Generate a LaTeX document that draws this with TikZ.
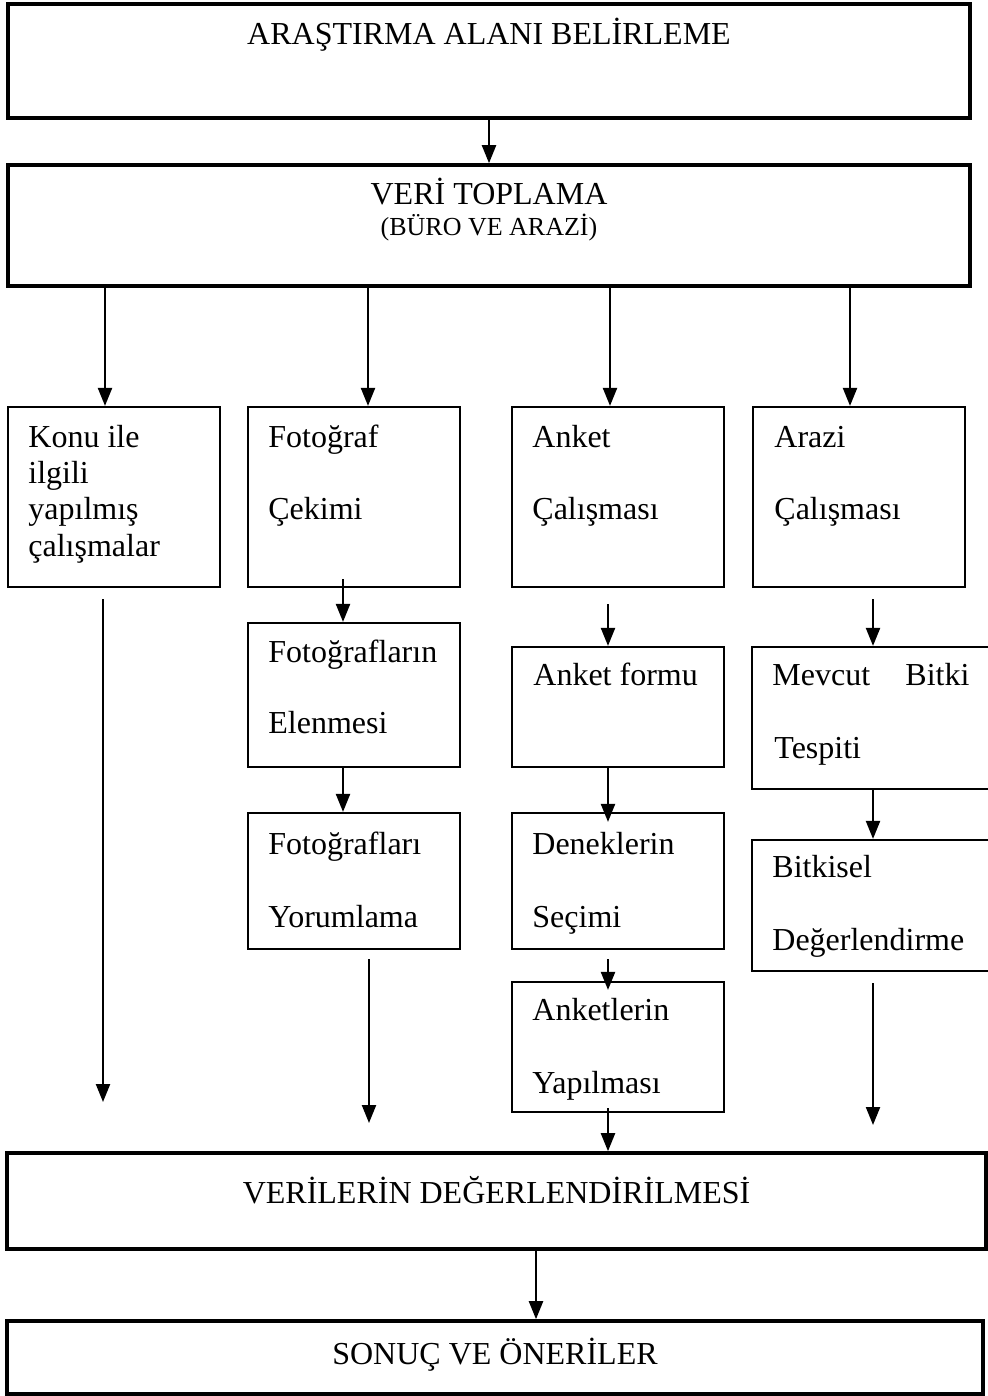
\documentclass[tikz,border=0pt]{standalone}
\usepackage{fontspec}
\setmainfont{Liberation Serif}
\usetikzlibrary{arrows.meta}
\begin{document}
\begin{tikzpicture}[x=0.5pt,y=-0.5pt,
  heavy/.style={draw, line width=1.8pt, inner sep=0pt},
  plain/.style={draw, line width=1.1pt, inner sep=0pt},
  sz/.style 2 args={minimum width=#1*0.5pt, minimum height=#2*0.5pt},
  txt/.style={anchor=base west, inner sep=0pt, font=\fontsize{16}{19}\selectfont},
  ctxt/.style={anchor=base, inner sep=0pt, font=\fontsize{16}{19}\selectfont},
  arr/.style={line width=1.1pt, -{Triangle[width=7pt,length=9pt]}}
]
\clip (0,0) rectangle (988,1396);
\fill[white] (0,0) rectangle (988,1396);

% column coordinates
\coordinate (k1) at (105,0);
\coordinate (k2) at (368,0);
\coordinate (k3) at (610,0);
\coordinate (k4) at (850,0);
\coordinate (c1) at (103,0);
\coordinate (c2) at (343,0);
\coordinate (c2b) at (369,0);
\coordinate (c3) at (608,0);
\coordinate (c4) at (873,0);
\coordinate (c5) at (536,0);

% top boxes
\node[heavy, sz={962}{114}] (top) at (489,61) {};
\node[ctxt] (topt) at (489,45) {ARAŞTIRMA ALANI BELİRLEME};
\node[heavy, sz={962}{121}] (veri) at (489,225.5) {};
\node[ctxt] (verit) at (489,205) {VERİ TOPLAMA};
\node[ctxt, font=\fontsize{13}{15}\selectfont] (buro) at (489,235) {(BÜRO VE ARAZİ)};

% first row
\node[plain, sz={212}{180}] (b1) at (114,497) {};
\node[plain, sz={212}{180}] (b2) at (354,497) {};
\node[plain, sz={212}{180}] (b3) at (618,497) {};
\node[plain, sz={212}{180}] (b4) at (859,497) {};
\node[txt] (b1a) at (28,447) {Konu ile};
\node[txt] (b1b) at (28,483) {ilgili};
\node[txt] (b1c) at (28,519) {yapılmış};
\node[txt] (b1d) at (28,556) {çalışmalar};
\node[txt] (b2a) at (268,447) {Fotoğraf};
\node[txt] (b2b) at (268,519) {Çekimi};
\node[txt] (b3a) at (532,447) {Anket};
\node[txt] (b3b) at (532,519) {Çalışması};
\node[txt] (b4a) at (774,447) {Arazi};
\node[txt] (b4b) at (774,519) {Çalışması};

% column 2
\node[plain, sz={212}{144}] (e2) at (354,695) {};
\node[txt] (e2a) at (268,662) {Fotoğrafların};
\node[txt] (e2b) at (268,733) {Elenmesi};
\node[plain, sz={212}{136}] (y2) at (354,881) {};
\node[txt] (y2a) at (268,854) {Fotoğrafları};
\node[txt] (y2b) at (268,927) {Yorumlama};

% column 3
\node[plain, sz={212}{120}] (f3) at (618,707) {};
\node[txt] (f3a) at (533,685) {Anket formu};
\node[plain, sz={212}{136}] (d3) at (618,881) {};
\node[txt] (d3a) at (532,854) {Deneklerin};
\node[txt] (d3b) at (532,927) {Seçimi};
\node[plain, sz={212}{130}] (a3) at (618,1047) {};
\node[txt] (a3a) at (532,1020) {Anketlerin};
\node[txt] (a3b) at (532,1093) {Yapılması};

% column 4 (cut at right edge)
\node[plain, sz={248}{142}] (m4) at (876,718) {};
\node[txt] (m4a) at (772,685) {Mevcut};
\node[txt] (m4b) at (905,685) {Bitki};
\node[txt] (m4c) at (774,758) {Tespiti};
\node[plain, sz={248}{131}] (bk) at (876,905.5) {};
\node[txt] (bka) at (772,877) {Bitkisel};
\node[txt] (bkb) at (772,950) {Değerlendirme};

% bottom boxes
\node[heavy, sz={979}{96}] (ver) at (496.5,1201) {};
\node[ctxt] (vert) at (496.5,1203) {VERİLERİN DEĞERLENDİRİLMESİ};
\node[heavy, sz={976}{73}] (son) at (495,1357.5) {};
\node[ctxt] (sont) at (495,1364) {SONUÇ VE ÖNERİLER};

% free ends
\coordinate (end1) at (103,1102);
\coordinate (end2) at (369,1123);
\coordinate (end4) at (873,1125);

% connectors
\draw[arr] (top.south) -- (veri.north);
\draw[arr] (veri.south -| k1) -- (b1.north -| k1);
\draw[arr] (veri.south -| k2) -- (b2.north -| k2);
\draw[arr] (veri.south -| k3) -- (b3.north -| k3);
\draw[arr] (veri.south -| k4) -- (b4.north -| k4);

\draw[arr] ([yshift=-5.5pt]b1.south -| c1) -- (end1);

\draw[arr] ([yshift=4.5pt]b2.south -| c2) -- (e2.north -| c2);
\draw[arr] (e2.south -| c2) -- (y2.north -| c2);
\draw[arr] ([yshift=-4.5pt]y2.south -| c2b) -- (end2);

\draw[arr] ([yshift=-8pt]b3.south -| c3) -- (f3.north -| c3);
\draw[arr] (f3.south -| c3) -- ([yshift=-5pt]d3.north -| c3);
\draw[arr] ([yshift=-4.5pt]d3.south -| c3) -- ([yshift=-4.5pt]a3.north -| c3);
\draw[arr] ([yshift=2.5pt]a3.south -| c3) -- (ver.north -| c3);

\draw[arr] ([yshift=-5.5pt]b4.south -| c4) -- (m4.north -| c4);
\draw[arr] (m4.south -| c4) -- (bk.north -| c4);
\draw[arr] ([yshift=-5.5pt]bk.south -| c4) -- (end4);

\draw[arr] (ver.south -| c5) -- (son.north -| c5);
\end{tikzpicture}
\end{document}
